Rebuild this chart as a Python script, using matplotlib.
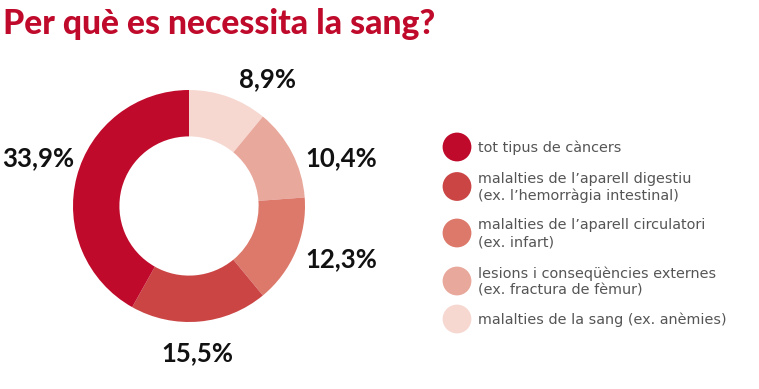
import matplotlib
matplotlib.use("Agg")
import matplotlib.pyplot as plt

# ---- data ----
categories = [
    "tot tipus de càncers",
    "malalties de l’aparell digestiu\n(ex. l’hemorràgia intestinal)",
    "malalties de l’aparell circulatori\n(ex. infart)",
    "lesions i conseqüències externes\n(ex. fractura de fèmur)",
    "malalties de la sang (ex. anèmies)",
]
values = [33.9, 15.5, 12.3, 10.4, 8.9]
value_labels = ["33,9%", "15,5%", "12,3%", "10,4%", "8,9%"]
colors = ["#C00A2B", "#CB4545", "#DC796B", "#E9A89C", "#F6D8D1"]
title = "Per què es necessita la sang?"

# ---- layout ----
W, H = 759, 389
fig = plt.figure(figsize=(W / 100, H / 100), dpi=100)
fig.patch.set_facecolor("white")

cx, cy, R = 189, 206, 116
ax = fig.add_axes([(cx - R) / W, (H - cy - R) / H, 2 * R / W, 2 * R / H])
order = list(reversed(range(len(values))))
ax.pie([values[i] for i in order], colors=[colors[i] for i in order],
       startangle=90, counterclock=False, radius=1,
       wedgeprops=dict(width=0.4, edgecolor="none"))
ax.set_xlim(-1, 1)
ax.set_ylim(-1, 1)
ax.set_aspect("equal")
ax.axis("off")

label_pos = [(-1.30, 0.41), (0.07, -1.27), (1.31, -0.46), (1.31, 0.41), (0.68, 1.09)]
for (x, y), lab in zip(label_pos, value_labels):
    ax.text(x, y, lab, ha="center", va="center", fontsize=18.5, family="Lato",
            weight="bold", color="#111111", clip_on=False)

ov = fig.add_axes([0, 0, 1, 1], zorder=-1)
ov.set_xlim(0, W)
ov.set_ylim(H, 0)
ov.axis("off")

ov.text(3, 34, title, ha="left", va="baseline", fontsize=24.3,
        family="Lato", weight="black", color="#C00A2B")

leg_y = [147, 186.5, 233, 281, 319]
for y, c, lab in zip(leg_y, colors, categories):
    ov.scatter([457], [y], s=430, color=c, edgecolors="none")
    ov.text(478, y + 1, lab, ha="left", va="center", fontsize=10.4,
            family="DejaVu Sans", color="#555555", linespacing=1.3)

fig.savefig("out.png", dpi=100, facecolor="white")
